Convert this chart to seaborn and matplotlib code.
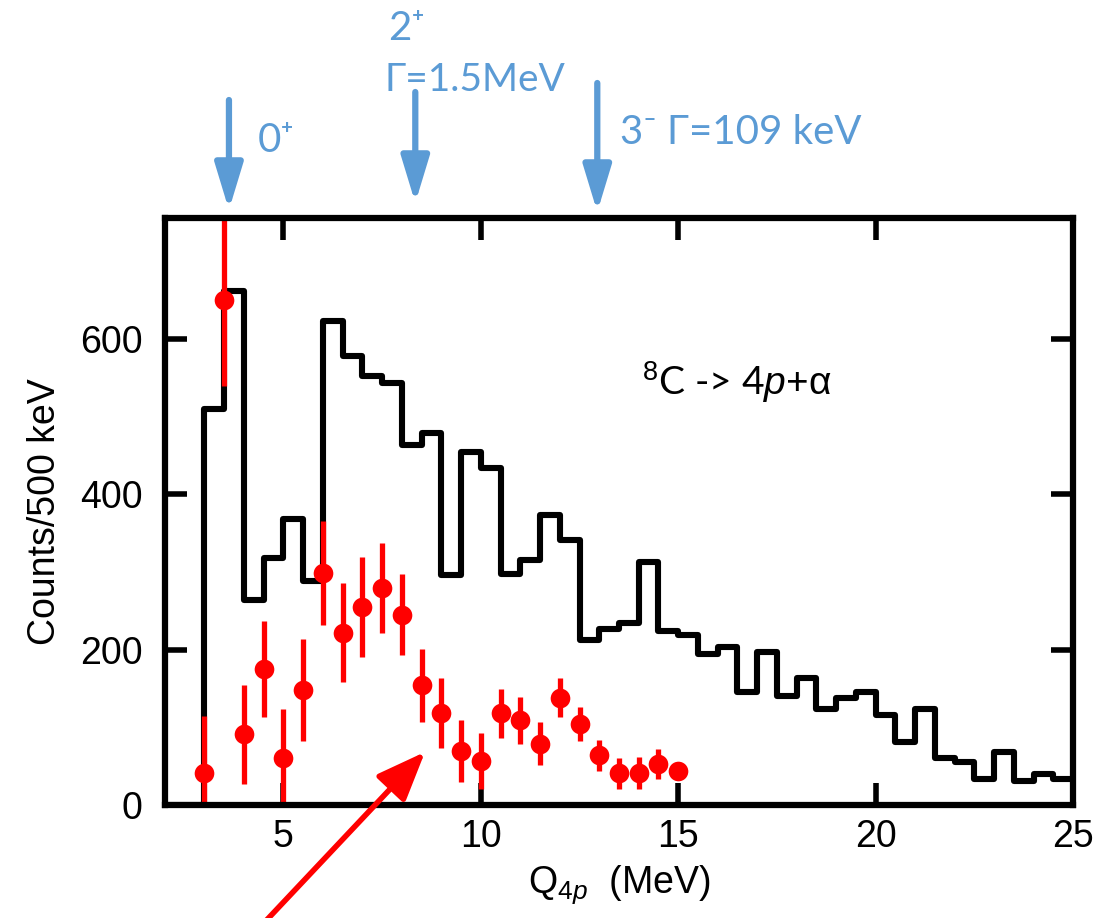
import numpy as np
import pandas as pd
import matplotlib.pyplot as plt
import seaborn as sns

# ---- data ----
# black histogram: counts per 0.5 MeV bin, left edges 2.0 ... 24.5 MeV
hist_lo = np.arange(2.0, 25.0, 0.5)
hist_counts = [0, 0,
               510, 662, 264, 318, 368, 289, 623, 578, 552, 543,
               464, 479, 296, 455, 434, 298, 316, 373, 341, 213,
               227, 234, 313, 224, 219, 195, 204, 145, 197, 140,
               164, 123, 138, 146, 116, 81, 123, 61, 56, 34,
               68, 31, 40, 33]

# red points with error bars
pts_q = np.arange(3.0, 15.5, 0.5)
pts_counts = [41, 650, 91, 175, 61, 148, 299, 222, 255, 280, 245, 154, 119,
              69, 57, 118, 109, 79, 138, 104, 64, 41, 41, 53, 44]
pts_err = [73, 110, 64, 62, 62, 66, 67, 64, 65, 58, 52, 47, 45,
           40, 36, 32, 30, 28, 25, 22, 20, 20, 21, 19, 8]

# resonance markers above the frame (Q position in MeV)
res_q = [3.62, 8.34, 12.95]

BLUE = "#5B9BD5"
RED = "#FF0000"

sns.set_style("white")
plt.rcParams["font.family"] = ["Liberation Sans", "DejaVu Sans"]
plt.rcParams["mathtext.fontset"] = "custom"
plt.rcParams["mathtext.rm"] = "Liberation Sans"
plt.rcParams["mathtext.it"] = "Liberation Sans:italic"
plt.rcParams["text.color"] = "black"
plt.rcParams["axes.labelcolor"] = "black"

W, H = 1099, 918
fig = plt.figure(figsize=(W / 100, H / 100), dpi=100)
ax = fig.add_axes([165 / W, 1 - 805 / H, (1073 - 165) / W, (805 - 218) / H])

hist_df = pd.DataFrame({"q": hist_lo + 0.25, "n": hist_counts})
sns.histplot(data=hist_df, x="q", weights="n", binwidth=0.5, binrange=(2, 25),
             element="step", fill=False, color="black", linewidth=4.4,
             ax=ax, zorder=2)

pts_df = pd.DataFrame({"q": pts_q, "n": pts_counts, "err": pts_err})
ax.errorbar(pts_df["q"], pts_df["n"], yerr=pts_df["err"], fmt="none",
            ecolor=RED, elinewidth=3.8, capsize=0, zorder=3)
sns.scatterplot(data=pts_df, x="q", y="n", color=RED, s=200, marker="o",
                edgecolor=RED, linewidth=0, ax=ax, zorder=4)

ax.set_xlim(2, 25)
ax.set_ylim(0, 756)
ax.set_xticks([5, 10, 15, 20, 25])
ax.set_yticks([0, 200, 400, 600])
ax.tick_params(direction="in", length=16, width=4, top=True, right=True,
               bottom=True, left=True, labelsize=27, color="black",
               labelcolor="black")
ax.tick_params(axis="y", pad=16)
ax.tick_params(axis="x", pad=10)
for sp in ax.spines.values():
    sp.set_linewidth(4.5)
    sp.set_color("black")
    sp.set_zorder(5)

ax.set_xlabel(r"Q$_{4p}$  (MeV)", fontsize=27, labelpad=6)
ax.set_ylabel("Counts/500 keV", fontsize=27, labelpad=12)

ax.text(0.525, 0.72, r"$^{8}$C -> 4$p$+$\mathrm{\alpha}$", transform=ax.transAxes,
        fontsize=28, family="Lato", color="black", ha="left", va="center")

# blue resonance labels and arrows
fig.text(258 / W, 1 - 140 / H, "0\u207a", fontsize=29, family="Lato",
         color=BLUE, ha="left", va="center")
fig.text(388 / W, 1 - 28 / H, "2\u207a", fontsize=29, family="Lato",
         color=BLUE, ha="left", va="center")
fig.text(385 / W, 1 - 80 / H, "\u0393=1.5MeV", fontsize=28, family="Lato",
         color=BLUE, ha="left", va="center")
fig.text(620 / W, 1 - 133 / H, "3\u207b \u0393=109 keV", fontsize=29,
         family="Lato", color=BLUE, ha="left", va="center")

tails = [100, 92, 83]
tips = [210, 203, 212]
for q, t0, t1 in zip(res_q, tails, tips):
    xf = ax.transData.transform((q, 0))[0] / W
    ax.annotate("", xy=(xf, 1 - t1 / H), xytext=(xf, 1 - t0 / H),
                xycoords="figure fraction", textcoords="figure fraction",
                arrowprops=dict(arrowstyle="-|>,head_length=2.8,head_width=0.85",
                                mutation_scale=10, lw=4.5, color=BLUE,
                                shrinkA=0, shrinkB=0))

# red pointer arrow from below
ax.annotate("", xy=(425 / W, 1 - 752 / H), xytext=(262 / W, 1 - 925 / H),
            xycoords="figure fraction", textcoords="figure fraction",
            arrowprops=dict(arrowstyle="-|>,head_length=3.0,head_width=1.2",
                            mutation_scale=10, lw=4, color=RED,
                            shrinkA=0, shrinkB=0), zorder=6)

fig.savefig("out.png", dpi=100)
